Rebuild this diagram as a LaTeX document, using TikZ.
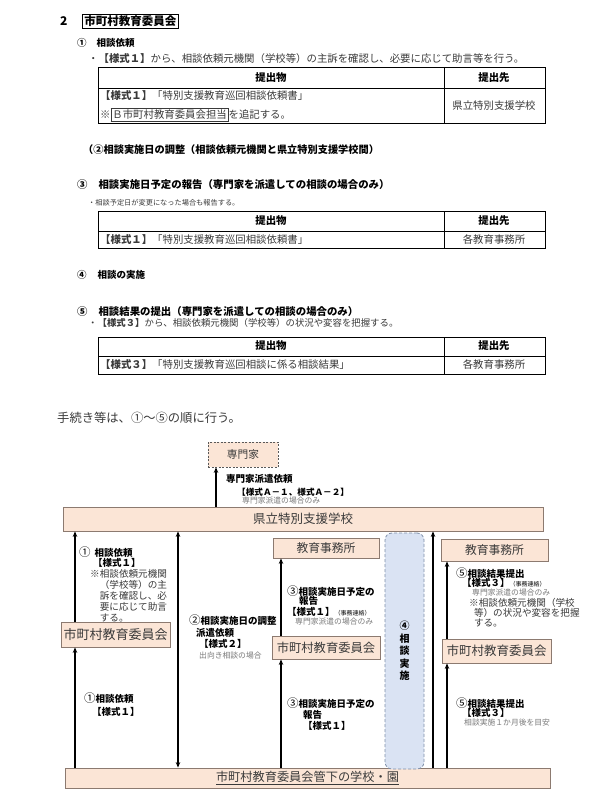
\documentclass[tikz,border=0pt]{standalone}
\usepackage{fontspec}
\setmainfont{Noto Sans CJK JP}
\usetikzlibrary{arrows.meta}

\definecolor{peach}{HTML}{FBE5D6}
\definecolor{boxline}{HTML}{8C7A70}
\definecolor{bluefill}{HTML}{DAE3F3}
\definecolor{blueline}{HTML}{7F8FA9}
\definecolor{notegray}{HTML}{7A7A7A}
\definecolor{bodytext}{HTML}{3A3A3A}

\newcommand{\jfs}[1]{\fontsize{#1}{#1}\selectfont}
\newcommand{\cnum}[1]{{\mdseries\jfs{11.5}#1}}

\tikzset{
  orgbox/.style={draw=boxline, fill=peach, line width=0.8pt, inner sep=0pt, text=bodytext},
  flow/.style={-{Stealth[length=5.5pt,width=4.5pt]}, line width=1.3pt},
  dflow/.style={{Stealth[length=5.5pt,width=4.5pt]}-{Stealth[length=5.5pt,width=4.5pt]}, line width=1.3pt},
  lbl/.style={anchor=west, inner sep=0pt, font=\bfseries\jfs{9.5}},
  note/.style={anchor=west, inner sep=0pt, text=notegray, font=\jfs{7.8}},
  body/.style={anchor=west, inner sep=0pt, text=bodytext, font=\jfs{10.4}},
  head/.style={anchor=west, inner sep=0pt, font=\bfseries\jfs{10.4}},
  tblline/.style={line width=0.9pt},
}

\begin{document}
\begin{tikzpicture}[x=1pt, y=-1pt]
    \fill[white] (0,0) rectangle (609,800);
    \useasboundingbox (0,0) rectangle (609,800);

    % Section heading
    \node[anchor=west, inner sep=0pt, font=\bfseries\jfs{12}] (secnum) at (60,21) {2};
    \node[draw, line width=0.8pt, anchor=west, inner xsep=2pt, inner ysep=1.5pt, font=\bfseries\jfs{11.5}] (sectitle) at (82,21) {市町村教育委員会};

    % (1) Request
    \node[head, font=\bfseries\jfs{9.5}] (s1) at (77,43) {①\hspace{10pt}相談依頼};
    \node[body] (s1note) at (88,59) {・\textbf{【様式１】}から、相談依頼元機関（学校等）の主訴を確認し、必要に応じて助言等を行う。};
    \draw[tblline] (98,67) rectangle (545,123);
    \draw[tblline] (98,88) -- (545,88);
    \draw[tblline] (444,67) -- (444,123);
    \node[head, anchor=center] (t1h1) at (271,78) {提出物};
    \node[head, anchor=center] (t1h2) at (494,78) {提出先};
    \node[body] (t1r1) at (100,96) {\textbf{【様式１】}「特別支援教育巡回相談依頼書」};
    \node[body] (t1r2) at (100,115) {※{\fboxsep=1pt\fboxrule=0.8pt\fbox{Ｂ市町村教育委員会担当}}を追記する。};
    \node[body, anchor=center] (t1r3) at (494,106) {県立特別支援学校};

    % (2) Date adjustment
    \node[head, font=\bfseries\jfs{10.2}] (s2) at (83,150) {（②相談実施日の調整（相談依頼元機関と県立特別支援学校間）};

    % (3) Report
    \node[head] (s3) at (77,185) {③\hspace{11pt}相談実施日予定の報告（専門家を派遣しての相談の場合のみ）};
    \node[body, font=\jfs{7.2}] (s3note) at (88,203) {・相談予定日が変更になった場合も報告する。};
    \draw[tblline] (98,211) rectangle (545,248);
    \draw[tblline] (98,231) -- (545,231);
    \draw[tblline] (444,211) -- (444,248);
    \node[head, anchor=center] (t2h1) at (271,221) {提出物};
    \node[head, anchor=center] (t2h2) at (494,221) {提出先};
    \node[body] (t2r1) at (100,240) {\textbf{【様式１】}「特別支援教育巡回相談依頼書」};
    \node[body, anchor=center] (t2r2) at (494,240) {各教育事務所};

    % (4) Consultation
    \node[head, font=\bfseries\jfs{9.5}] (s4) at (77,275) {④\hspace{11pt}相談の実施};

    % (5) Results
    \node[head] (s5) at (77,312) {⑤\hspace{11pt}相談結果の提出（専門家を派遣しての相談の場合のみ）};
    \node[body, font=\jfs{9.4}] (s5note) at (88,323) {・\textbf{【様式３】}から、相談依頼元機関（学校等）の状況や変容を把握する。};
    \draw[tblline] (98,337) rectangle (545,374);
    \draw[tblline] (98,356) -- (545,356);
    \draw[tblline] (444,337) -- (444,374);
    \node[head, anchor=center] (t3h1) at (271,346) {提出物};
    \node[head, anchor=center] (t3h2) at (494,346) {提出先};
    \node[body] (t3r1) at (100,365) {\textbf{【様式３】}「特別支援教育巡回相談に係る相談結果」};
    \node[body, anchor=center] (t3r2) at (494,365) {各教育事務所};

    \node[body, font=\jfs{12.3}] (order) at (57,418) {手続き等は、①～⑤の順に行う。};

    % Flow diagram boxes
    \node[orgbox, draw=gray!70!black, dash pattern=on 2pt off 1.5pt, minimum width=70pt, minimum height=25pt, font=\jfs{10.7}] (senmonka) at (243,454.5) {専門家};
    \node[orgbox, minimum width=480pt, minimum height=24pt, font=\jfs{12.5}] (kenritsu) at (303,519) {県立特別支援学校};
    \node[orgbox, minimum width=485pt, minimum height=20pt, font=\jfs{12.2}] (gakko) at (307.5,778) {\underline{市町村教育委員会管下の学校・園}};
    \node[orgbox, minimum width=109pt, minimum height=25pt, font=\jfs{13}] (lboard) at (115.5,634.5) {市町村教育委員会};
    \node[orgbox, minimum width=106pt, minimum height=20pt, font=\jfs{11.8}] (moffice) at (326,548) {教育事務所};
    \node[orgbox, minimum width=108pt, minimum height=23pt, font=\jfs{12.3}] (mboard) at (326,647.5) {市町村教育委員会};
    \node[orgbox, minimum width=107pt, minimum height=22pt, font=\jfs{11.8}] (roffice) at (494.5,550) {教育事務所};
    \node[orgbox, minimum width=109pt, minimum height=24pt, font=\jfs{12.5}] (rboard) at (496.5,651) {市町村教育委員会};
    \node[draw=blueline, fill=bluefill, dash pattern=on 3pt off 2pt, rounded corners=7pt, line width=0.8pt, minimum width=39pt, minimum height=236pt, inner sep=0pt, align=center, font=\bfseries\fontsize{10}{12.5}\selectfont] (jisshi) at (404.5,651) {④\\相\\談\\実\\施};

    % Arrow columns
    \coordinate (xS) at (216,0);
    \coordinate (xA) at (75,0);
    \coordinate (xB) at (178,0);
    \coordinate (xC) at (281,0);
    \coordinate (xD) at (433,0);
    \coordinate (xE) at (447,0);

    % Arrows
    \draw[flow] (kenritsu.north -| xS) -- (senmonka.south -| xS);
    \draw[flow] (lboard.north -| xA) -- (kenritsu.south -| xA);
    \draw[flow] (gakko.north -| xA) -- (lboard.south -| xA);
    \draw[dflow] (kenritsu.south -| xB) -- (gakko.north -| xB);
    \draw[flow] (mboard.north -| xC) -- (moffice.south -| xC);
    \draw[flow] (gakko.north -| xC) -- (mboard.south -| xC);
    \draw[flow] (gakko.north -| xD) -- (kenritsu.south -| xD);
    \draw[flow] (rboard.north -| xE) -- (roffice.south -| xE);
    \draw[flow] (gakko.north -| xE) -- (rboard.south -| xE);

    % Labels: expert
    \node[lbl] (s0a) at (226,479) {専門家派遣依頼};
    \node[lbl, font=\bfseries\jfs{8.6}] (s0b) at (237,492) {【様式Ａ－１、様式Ａ－２】};
    \node[note] (s0c) at (242,501) {専門家派遣の場合のみ};

    % Labels: left column
    \node[lbl] (l1a) at (79,552) {\cnum{①}\hspace{4pt}相談依頼};
    \node[lbl] (l1b) at (93,563) {【様式１】};
    \node[anchor=north west, inner sep=0pt, align=left, text=bodytext, font=\fontsize{9.6}{11}\selectfont] (lnote) at (90,569) {※相談依頼元機関\\\hspace*{1em}（学校等）の主\\\hspace*{1em}訴を確認し、必\\\hspace*{1em}要に応じて助言\\\hspace*{1em}する。};
    \node[lbl] (l1c) at (84,698) {\cnum{①}相談依頼};
    \node[lbl] (l1d) at (92,712) {【様式１】};

    % Labels: date adjustment
    \node[lbl] (m2a) at (189,620) {\cnum{②}相談実施日の調整};
    \node[lbl] (m2b) at (196,633) {派遣依頼};
    \node[lbl] (m2c) at (199,644) {【様式２】};
    \node[note] (m2d) at (199,656) {出向き相談の場合};

    % Labels: centre column
    \node[lbl] (c3a) at (287,591) {\cnum{③}相談実施日予定の};
    \node[lbl] (c3b) at (299,601) {報告};
    \node[lbl] (c3c) at (287,612) {【様式１】{\mdseries\jfs{6}（事務連絡）}};
    \node[note] (c3d) at (295,622) {専門家派遣の場合のみ};
    \node[lbl] (c3e) at (287,703) {\cnum{③}相談実施日予定の};
    \node[lbl] (c3f) at (303,715) {報告};
    \node[lbl] (c3g) at (303,726) {【様式１】};

    % Labels: right column
    \node[lbl] (r5a) at (456,573) {\cnum{⑤}相談結果提出};
    \node[lbl] (r5b) at (462,583) {【様式３】{\mdseries\jfs{6}（事務連絡）}};
    \node[note] (r5c) at (472,593) {専門家派遣の場合のみ};
    \node[anchor=north west, inner sep=0pt, align=left, text=bodytext, font=\fontsize{9.6}{10}\selectfont] (rnote) at (469,598) {※相談依頼元機関（学校\\\hspace*{0.5em}等）の状況や変容を把握\\\hspace*{0.5em}する。};
    \node[lbl] (r5d) at (456,703) {\cnum{⑤}相談結果提出};
    \node[lbl] (r5e) at (462,713) {【様式３】};
    \node[note] (r5f) at (464,723) {相談実施１か月後を目安};
\end{tikzpicture}
\end{document}
